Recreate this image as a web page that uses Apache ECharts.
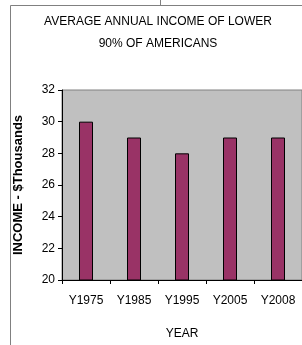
<!DOCTYPE html>
<html>
<head>
<meta charset="utf-8">
<script src="https://cdn.jsdelivr.net/npm/echarts@6/dist/echarts.min.js"></script>
<style>
  html, body { margin: 0; padding: 0; background: #fff; }
  #chart { width: 302px; height: 345px; }
</style>
</head>
<body>
<div id="chart"></div>
<script>
var years = ['Y1975', 'Y1985', 'Y1995', 'Y2005', 'Y2008'];
var income = [30, 29, 28, 29, 29];
var titleLines = ['AVERAGE ANNUAL INCOME OF LOWER', '90% OF AMERICANS'];

var font = 'Liberation Sans, Arial, sans-serif';

var option = {
  backgroundColor: '#fff',
  animation: false,
  graphic: [
    // chart area frame (cropped)
    { type: 'line', shape: { x1: 10.5, y1: 5.5, x2: 10.5, y2: 345 }, style: { stroke: '#808080', lineWidth: 1 } },
    { type: 'line', shape: { x1: 10.5, y1: 5.5, x2: 302, y2: 5.5 }, style: { stroke: '#808080', lineWidth: 1 } },
    { type: 'line', shape: { x1: 160.5, y1: 0, x2: 160.5, y2: 5 }, style: { stroke: '#808080', lineWidth: 1 } },
    { type: 'text', x: 158, y: 22, style: { text: titleLines[0], fill: '#000', font: '12px ' + font, textAlign: 'center', textVerticalAlign: 'middle' } },
    { type: 'text', x: 158, y: 44, style: { text: titleLines[1], fill: '#000', font: '12px ' + font, textAlign: 'center', textVerticalAlign: 'middle' } }
  ],
  grid: {
    left: 62, top: 90, width: 247, height: 194,
    show: true, backgroundColor: '#c0c0c0', borderColor: '#808080', borderWidth: 1
  },
  xAxis: {
    type: 'category',
    data: years,
    name: 'YEAR',
    nameLocation: 'middle',
    nameGap: 48,
    nameTextStyle: { color: '#000', fontSize: 12, fontFamily: font },
    axisLine: { lineStyle: { color: '#000', width: 1 } },
    axisTick: { show: true, length: 4, lineStyle: { color: '#000' } },
    axisLabel: { color: '#000', fontSize: 12, fontFamily: font, margin: 15 }
  },
  yAxis: {
    type: 'value',
    min: 20, max: 32, interval: 2,
    name: 'INCOME - $Thousands',
    nameLocation: 'middle',
    nameGap: 37,
    nameTextStyle: { color: '#000', fontSize: 13, fontWeight: 'bold', fontFamily: font },
    axisLine: { show: true, lineStyle: { color: '#000', width: 1 } },
    axisTick: { show: true, length: 4, lineStyle: { color: '#000' } },
    axisLabel: { color: '#000', fontSize: 12, fontFamily: font, margin: 7 },
    splitLine: { show: false }
  },
  series: [{
    type: 'bar',
    data: income,
    barWidth: 14,
    itemStyle: { color: '#993366', borderColor: '#000', borderWidth: 1 }
  }]
};

var chart = echarts.init(document.getElementById('chart'));
chart.setOption(option);
</script>
</body>
</html>
